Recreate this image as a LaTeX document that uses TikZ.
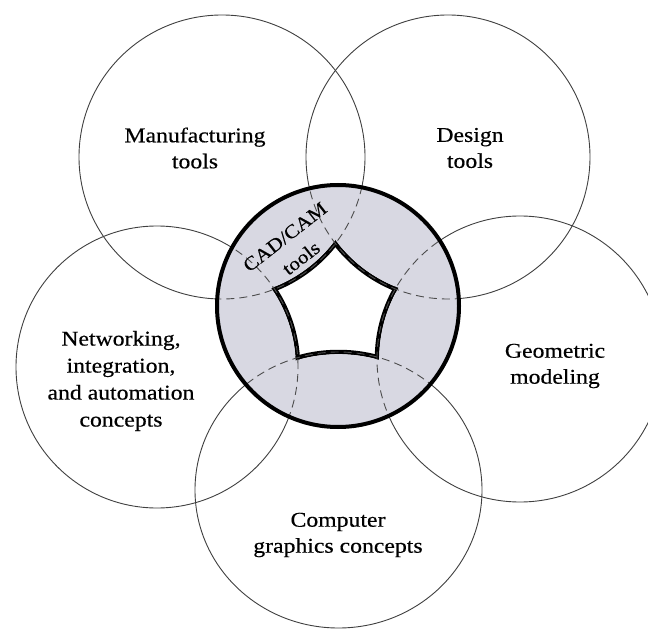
\documentclass[tikz,border=0pt]{standalone}
\usepackage{fontspec}
\setmainfont{Liberation Serif}[FakeStretch=1.13,FakeBold=0.4]
\definecolor{cadgray}{RGB}{216,216,226}
\begin{document}
\begin{tikzpicture}[x=1pt,y=-1pt,
  thin circ/.style={draw=black!75,line width=0.9pt},
  dash circ/.style={draw=black!70,line width=0.9pt,dash pattern=on 8pt off 5pt},
  lbl/.style={align=center,font=\fontsize{21}{26}\selectfont,text=black,inner sep=0pt}]
\useasboundingbox[fill=white] (0,0) rectangle (648,631);
% centres and radii (x radius, y radius)
\coordinate (M) at (222,157);
\coordinate (D) at (448,157);
\coordinate (N) at (157,367);
\coordinate (G) at (520,359);
\coordinate (C) at (338.5,490);
\coordinate (K) at (338,306);
\def\rads{M/143/142, D/142/142, N/141/141, G/143/143, C/143.5/138}
% outer circles
\foreach \c/\a/\b in \rads{\path[thin circ] (\c) ellipse[x radius=\a pt,y radius=\b pt];}
% central disc with white pentagon-like core
\begin{scope}
  \clip (K) circle[radius=121pt];
  \fill[white] (K) circle[radius=121pt];
  \foreach \c/\a/\b in \rads{\draw[line width=4.5pt] (\c) ellipse[x radius=\a pt,y radius=\b pt];}
  \foreach \c/\a/\b in \rads{\fill[cadgray] (\c) ellipse[x radius=\a pt-2.2pt,y radius=\b pt-2.2pt];}
  \foreach \c/\a/\b in \rads{\path[dash circ] (\c) ellipse[x radius=\a pt,y radius=\b pt];}
\end{scope}
\draw[line width=4pt] (K) circle[radius=121pt];
% labels
\node[lbl] (tM) at (195,148) {Manufacturing\\tools};
\node[lbl] (tD) at (470,148) {Design\\tools};
\node[lbl,font=\fontsize{21}{27}\selectfont] (tN) at (121,381) {Networking,\\integration,\\and automation\\concepts};
\node[lbl] (tG) at (555,366) {Geometric\\modeling};
\node[lbl] (tC) at (338,535) {Computer\\graphics concepts};
\node[lbl,rotate=38,font=\fontsize{19}{22}\selectfont] (tK1) at (285,237) {CAD/CAM};
\node[lbl,rotate=38,font=\fontsize{19}{22}\selectfont] (tK2) at (301,258) {tools};
\end{tikzpicture}
\end{document}
